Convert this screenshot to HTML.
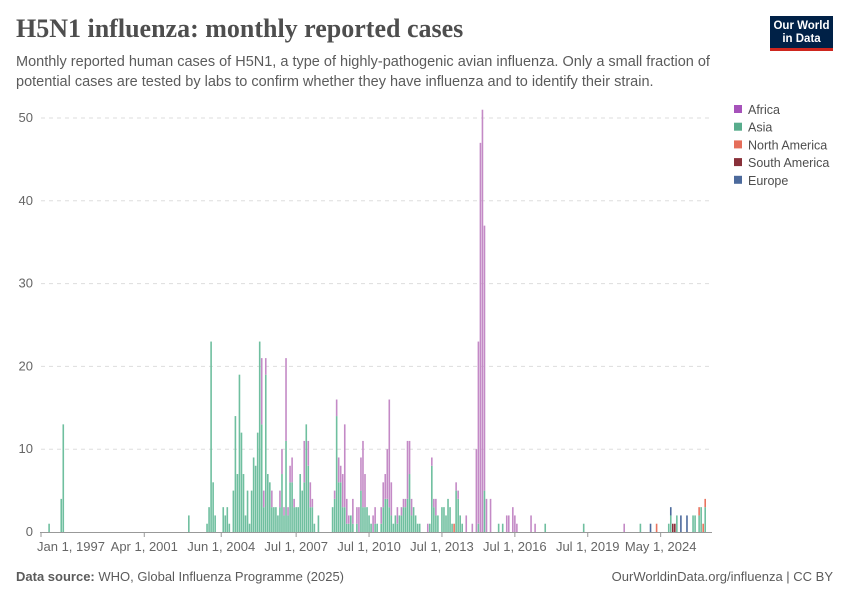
<!DOCTYPE html>
<html><head><meta charset="utf-8"><style>
body{margin:0;background:#fff;font-family:"Liberation Sans",sans-serif;}
#wrap{position:relative;width:850px;height:600px;overflow:hidden;}
.t{position:absolute;white-space:nowrap;}
</style></head><body>
<div id="wrap">
<div class="t" style="left:16px;top:14px;font-family:'Liberation Serif',serif;font-size:26px;font-weight:bold;color:#4e4e4e;">H5N1 influenza: monthly reported cases</div>
<div class="t" style="left:16px;top:52px;font-size:14.5px;line-height:20px;color:#5b5b5b;white-space:normal;width:730px;">Monthly reported human cases of H5N1, a type of highly-pathogenic avian influenza. Only a small fraction of potential cases are tested by labs to confirm whether they have influenza and to identify their strain.</div>
<div style="position:absolute;left:770px;top:16px;width:63px;height:35px;background:#002147;border-bottom:3px solid #ce261e;color:#fff;font-size:11.5px;line-height:13px;text-align:center;font-weight:bold;box-sizing:border-box;padding-top:4px;">Our World<br>in Data</div>
<svg id="chart" width="850" height="600" style="position:absolute;left:0;top:0"></svg>
<div class="t" style="left:16px;top:569px;font-size:13px;color:#5b5b5b;"><b>Data source:</b> WHO, Global Influenza Programme (2025)</div>
<div class="t" style="right:17px;top:569px;font-size:13px;color:#5b5b5b;">OurWorldinData.org/influenza | CC BY</div>
</div>
<script>
// month index 0 = Jan 1997
const asiaMonths=[4,10,11,73,82,83,84,85,86,90,91,92,93,95,96,97,98,99,100,101,102,103,104,105,106,107,108,109,110,111,112,113,114,115,116,117,118,119,120,121,122,123,124,125,126,127,128,129,130,131,132,133,134,135,137,144,145,146,147,148,149,150,151,152,153,154,156,158,159,160,161,162,163,165,166,168,169,170,171,172,173,174,175,176,177,178,179,180,181,182,183,184,185,186,187,192,193,194,195,196,198,199,200,201,202,203,205,206,207,208,216,219,226,228,249,268,296,310,311,314,322,323,325,326,328];
const asiaValues=[1,4,13,2,1,3,23,6,2,3,2,3,1,5,14,7,19,12,7,2,5,1,5,9,8,12,23,13,3,19,7,6,3,3,3,2,3,7,2,11,2,6,6,3,3,3,7,5,6,13,8,3,3,1,2,3,4,14,6,6,3,3,1,1,2,1,1,5,3,3,3,2,1,1,1,1,3,4,4,3,2,1,2,1,2,2,3,3,4,7,2,3,2,1,1,1,8,3,2,2,3,3,2,4,3,1,5,4,2,1,1,5,1,1,1,1,1,1,2,2,2,2,2,3,3];
const africaMonths=[109,110,111,114,118,119,120,121,122,123,124,125,130,132,133,134,145,146,147,148,149,150,151,152,154,156,157,158,159,160,164,165,168,169,170,171,172,173,176,178,179,180,181,182,183,191,193,194,195,205,206,210,213,215,216,217,218,219,220,222,230,231,233,234,235,242,244,288];
const africaValues=[8,2,2,2,2,3,1,10,1,2,3,1,5,3,3,1,1,2,3,2,4,10,3,1,3,2,3,4,8,4,2,2,2,3,3,6,13,4,2,1,1,1,7,4,2,1,1,1,2,1,1,2,1,10,22,47,51,32,4,4,2,2,3,2,1,2,1,1];
const naMonths=[204,304,325,327,328];
const naValues=[1,1,1,1,1];
const saMonths=[312,313];
const saValues=[1,1];
const euMonths=[301,311,316,319];
const euValues=[1,1,2,2];
const yTicks=[0,10,20,30,40,50];
const xTickMonths=[0,51,89,126,162,198,234,270,306];
const xTickLabels=["Jan 1, 1997","Apr 1, 2001","Jun 1, 2004","Jul 1, 2007","Jul 1, 2010","Jul 1, 2013","Jul 1, 2016","Jul 1, 2019","May 1, 2024"];
const series=[
 {name:"Asia",color:"#6fbf9f",m:asiaMonths,v:asiaValues},
 {name:"Africa",color:"#c48ac6",m:africaMonths,v:africaValues},
 {name:"North America",color:"#e9735f",m:naMonths,v:naValues},
 {name:"South America",color:"#8b2f3a",m:saMonths,v:saValues},
 {name:"Europe",color:"#4c6a9c",m:euMonths,v:euValues}];
const legendOrder=["Africa","Asia","North America","South America","Europe"];
const legendColors=["#a652ba","#58ac8c","#e56e5a","#883039","#4c6a9c"];
const X0=41,PXM=2.025,Y0=532,PXU=8.28;
const xs=m=>X0+m*PXM, ys=v=>Y0-v*PXU;
const svg=document.getElementById('chart');const NS="http://www.w3.org/2000/svg";
function mk(t,a){const e=document.createElementNS(NS,t);for(const k in a)e.setAttribute(k,a[k]);svg.appendChild(e);return e;}
yTicks.forEach(t=>{
 if(t>0){const g=mk('line',{x1:X0,x2:712,y1:ys(t),y2:ys(t),stroke:'#ddd','stroke-dasharray':'4,4'});
 
 }
 const l=mk('text',{x:33,y:ys(t)+4,'text-anchor':'end','font-size':13,fill:'#666','font-family':'Liberation Sans'});l.textContent=t;
 
 
});
const stack={};
series.forEach(s=>{s.m.forEach((m,i)=>{const b=stack[m]||0;const v=s.v[i];
 const r=mk('rect',{x:xs(m)-0.8,y:ys(b+v),width:1.6,height:v*PXU,fill:s.color});
 
 
 stack[m]=b+v;});});
const ax=mk('line',{x1:X0-1,x2:712,y1:Y0+0.5,y2:Y0+0.5,stroke:'#999'});


xTickMonths.forEach((m,i)=>{
 const tk=mk('line',{x1:xs(m),x2:xs(m),y1:Y0,y2:Y0+5,stroke:'#999'});
 
 
 let anchor='middle',x=xs(m);if(i==0){anchor='start';x=37;}
 const l=mk('text',{x:x,y:551,'text-anchor':anchor,'font-size':13,fill:'#666','font-family':'Liberation Sans'});l.textContent=xTickLabels[i];
 
 
});
legendOrder.forEach((n,i)=>{const y=110+i*17.7;
 const r=mk('rect',{x:734,y:y-5,width:8,height:8,fill:legendColors[i]});
 
 
 const t=mk('text',{x:748,y:y+4,'font-size':12.5,fill:'#4e4e4e','font-family':'Liberation Sans'});t.textContent=n;
 
 
});
</script>
</body></html>
